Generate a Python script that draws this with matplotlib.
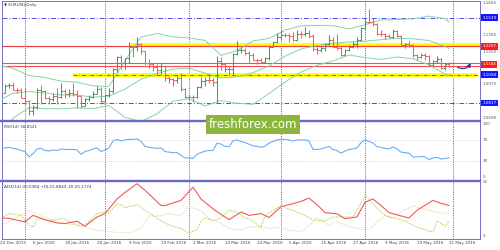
import matplotlib
matplotlib.use("Agg")
import matplotlib.pyplot as plt
import matplotlib.transforms as mtransforms
from matplotlib.patches import FancyArrowPatch
from matplotlib.lines import Line2D
import pandas as pd

# ---------------- data ----------------
title_text = "EURUSD,Daily"
bar_dates = [d for d in pd.bdate_range("2015-12-22", "2016-05-31")
             if not ((d.month == 12 and d.day == 25) or (d.month == 1 and d.day == 1))]

opens = [1.0922,1.0951,1.0905,1.0966,1.0970,1.0930,1.0930,1.0860,1.0830,1.0745,
         1.0780,1.0930,1.0920,1.0855,1.0850,1.0875,1.0865,1.0915,1.0890,1.0900,
         1.0890,1.0875,1.0795,1.0850,1.0870,1.0895,1.0937,1.0830,1.0885,1.0918,
         1.1105,1.1210,1.1155,1.1195,1.1290,1.1290,1.1320,1.1255,1.1155,1.1145,
         1.1125,1.1100,1.1130,1.1025,1.1020,1.1010,1.1025,1.0935,1.0870,1.0870,
         1.0865,1.0955,1.1000,1.1015,1.1010,1.0995,1.1175,1.1150,1.1105,1.1105,
         1.1235,1.1265,1.1270,1.1240,1.1220,1.1180,1.1180,1.1165,1.1200,1.1295,
         1.1335,1.1380,1.1390,1.1390,1.1385,1.1350,1.1405,1.1400,1.1410,1.1385,
         1.1275,1.1270,1.1285,1.1315,1.1355,1.1295,1.1285,1.1225,1.1265,1.1295,
         1.1315,1.1350,1.1455,1.1505,1.1500,1.1490,1.1405,1.1405,1.1385,1.1375,
         1.1425,1.1385,1.1310,1.1315,1.1310,1.1220,1.1205,1.1225,1.1215,1.1140,
         1.1175,1.1190,1.1115,1.1145]
highs = [1.0989,1.0956,1.0975,1.0990,1.0993,1.0945,1.0945,1.0945,1.0838,1.0800,
         1.0940,1.0970,1.0930,1.0875,1.0900,1.0940,1.0985,1.0935,1.0935,1.0990,
         1.0925,1.0880,1.0855,1.0885,1.0920,1.0960,1.0950,1.0895,1.0945,1.1110,
         1.1215,1.1225,1.1200,1.1338,1.1297,1.1376,1.1325,1.1262,1.1187,1.1160,
         1.1147,1.1155,1.1135,1.1045,1.1030,1.1050,1.1075,1.0945,1.0888,1.0885,
         1.0960,1.1035,1.1035,1.1058,1.1030,1.1218,1.1205,1.1155,1.1130,1.1240,
         1.1340,1.1300,1.1285,1.1255,1.1240,1.1190,1.1195,1.1210,1.1300,1.1345,
         1.1410,1.1440,1.1410,1.1410,1.1415,1.1440,1.1430,1.1465,1.1435,1.1400,
         1.1290,1.1300,1.1325,1.1395,1.1375,1.1398,1.1295,1.1275,1.1310,1.1345,
         1.1375,1.1465,1.1535,1.1616,1.1535,1.1495,1.1435,1.1410,1.1405,1.1445,
         1.1435,1.1395,1.1325,1.1345,1.1320,1.1235,1.1240,1.1245,1.1228,1.1185,
         1.1215,1.1195,1.1150,1.1165]
lows = [1.0915,1.0882,1.0900,1.0945,1.0925,1.0905,1.0858,1.0800,1.0711,1.0712,
        1.0765,1.0805,1.0848,1.0805,1.0835,1.0810,1.0860,1.0860,1.0865,1.0875,
        1.0778,1.0775,1.0795,1.0835,1.0855,1.0895,1.0810,1.0820,1.0870,1.0905,
        1.1080,1.1105,1.1105,1.1160,1.1211,1.1260,1.1230,1.1138,1.1115,1.1085,
        1.1065,1.1065,1.1005,1.0990,1.0960,1.0985,1.0915,1.0858,1.0845,1.0825,
        1.0855,1.0940,1.0965,1.0985,1.0965,1.0822,1.1095,1.1080,1.1055,1.1060,
        1.1225,1.1245,1.1225,1.1165,1.1180,1.1145,1.1165,1.1165,1.1180,1.1290,
        1.1325,1.1355,1.1375,1.1330,1.1345,1.1340,1.1370,1.1385,1.1370,1.1260,
        1.1235,1.1250,1.1260,1.1305,1.1290,1.1270,1.1215,1.1225,1.1260,1.1285,
        1.1285,1.1340,1.1440,1.1495,1.1470,1.1390,1.1385,1.1360,1.1365,1.1370,
        1.1375,1.1300,1.1285,1.1290,1.1210,1.1185,1.1195,1.1185,1.1130,1.1135,
        1.1155,1.1105,1.1095,1.1125]
closes = [1.0951,1.0905,1.0962,1.0970,1.0930,1.0930,1.0860,1.0830,1.0745,1.0780,
          1.0930,1.0920,1.0855,1.0850,1.0875,1.0865,1.0915,1.0890,1.0900,1.0890,
          1.0875,1.0795,1.0850,1.0870,1.0895,1.0937,1.0830,1.0885,1.0918,1.1105,
          1.1210,1.1155,1.1195,1.1290,1.1290,1.1320,1.1255,1.1155,1.1145,1.1125,
          1.1100,1.1130,1.1025,1.1020,1.1010,1.1025,1.0935,1.0870,1.0870,1.0865,
          1.0955,1.1000,1.1015,1.1010,1.0995,1.1175,1.1150,1.1105,1.1105,1.1235,
          1.1265,1.1270,1.1240,1.1220,1.1180,1.1180,1.1165,1.1200,1.1295,1.1335,
          1.1380,1.1390,1.1390,1.1385,1.1350,1.1405,1.1400,1.1410,1.1385,1.1275,
          1.1270,1.1285,1.1315,1.1355,1.1295,1.1285,1.1225,1.1265,1.1295,1.1315,
          1.1350,1.1455,1.1505,1.1500,1.1490,1.1405,1.1405,1.1385,1.1375,1.1425,
          1.1385,1.1310,1.1315,1.1310,1.1220,1.1205,1.1225,1.1215,1.1140,1.1175,
          1.1190,1.1115,1.1145,1.1130]

bb_idx = [0,4,8,12,16,20,24,28,32,36,40,44,48,52,56,60,64,68,72,76,80,84,88,92,96,100,104,108,112,113]
bb_mid = [1.0830,1.0899,1.0914,1.0901,1.0885,1.0884,1.0866,1.0876,1.0935,1.1018,1.1066,1.1105,1.1112,1.1070,1.1029,
          1.1038,1.1074,1.1131,1.1214,1.1275,1.1306,1.1323,1.1335,1.1341,1.1354,1.1366,1.1361,1.1347,1.1297,1.1278]
bb_up = [1.1141,1.1111,1.1050,1.1033,1.1002,1.0993,1.0962,1.0958,1.1177,1.1376,1.1407,1.1378,1.1369,1.1348,1.1221,
         1.1261,1.1343,1.1365,1.1434,1.1471,1.1475,1.1472,1.1446,1.1480,1.1521,1.1525,1.1530,1.1554,1.1531,1.1503]
bb_lo = [1.0519,1.0687,1.0778,1.0769,1.0768,1.0775,1.0770,1.0795,1.0694,1.0660,1.0725,1.0832,1.0854,1.0792,1.0837,
         1.0815,1.0805,1.0897,1.0994,1.1079,1.1137,1.1174,1.1224,1.1202,1.1187,1.1207,1.1192,1.1140,1.1063,1.1053]

# RSI(14), one value per bar
rsi = [54,53,55,56,54,53,50,48,38,44,53,54,50,49,51,50,53,52,52,52,
       51,43,48,50,53,55,48,51,55,68,71,68,70,71,71,72,67,58,56,55,
       54,55,48,47,46,46,41,36,36,35,43,46,49,50,50,64,62,58,57,68,
       70,67,65,62,59,58,56,58,64,67,70,71,71,70,68,70,70,70,68,52,
       52,53,55,58,52,50,45,49,52,53,55,65,70,67,64,57,56,54,53,57,
       53,47,46,45,38,38,39,38,33,36,37,34,35,36]
rsi_header = "RSI(14) 38.8521"

adx_idx = [1,3,7,9,12,15,17,20,22,25,27,30,32,35,37,41,42,46,49,51,54,58,61,63,66,68,71,73,76,78,
           80,82,85,87,90,92,94,96,98,101,103,105,109,111,113]
adx_val = [18.6,18.2,15.0,21.0,17.0,14.0,13.5,15.6,11.0,19.5,22.6,36.0,42.0,50.0,44.0,30.0,30.0,34.7,46.8,36.0,
           27.0,17.0,24.0,21.0,22.6,19.0,29.0,30.8,33.8,36.8,30.8,23.5,22.5,18.0,19.5,33.0,36.0,30.0,23.5,20.5,
           18.6,25.6,34.7,32.0,30.0]
pdi_idx = [1,3,6,8,9,10,12,13,16,17,20,22,25,26,28,30,31,32,35,37,39,41,43,46,48,50,51,52,54,56,
           58,60,62,63,66,67,71,72,74,77,79,82,84,87,89,92,93,95,97,99,102,105,109,110,112,113]
pdi_val = [18,22.6,21,12,10,18,17,16,18,17.5,12,12,22.6,23.5,23.5,31.7,30.8,28,30.8,25.5,
           21,16,12,9,4.7,8,16,18.6,16,18.6,25.5,24,18.6,18,10,21,30,28,25.5,21,
           16.7,16,19.5,19.5,19.5,39,36,27.4,21,18.6,16,10,5.5,16,11,15.9]
mdi_idx = [1,3,8,9,12,15,17,20,22,25,28,31,33,36,38,41,43,46,48,51,53,56,58,61,63,66,68,71,73,76,
           78,80,83,85,88,90,93,95,97,99,101,104,108,110,112,113]
mdi_val = [12,15,25.5,23.5,19.5,15,13.5,12,10,7.5,6.1,5,5,9,20.5,20.5,22.6,20.5,29,25.5,
           18.6,14,9,7.5,10.5,10.5,9,10,7.5,6,12,18.6,12,15,10.5,9,7.5,15,20.5,18.6,
           24,29.8,25.5,24,22.6,25.2]
adx_header = "ADX(14) 30.0084 +DI:15.8843 -DI:25.1774"

# horizontal levels drawn on the chart
blue_levels = [1.1539, 1.0817]
yellow_top_level, yellow_top_start = 1.1310, "2016-02-09"
red_top_level = 1.1297
red_pair_levels = [1.1154, 1.1131]
yellow_low_level, yellow_low_start = 1.1058, "2016-01-20"
price_box_labels = [(1.1539, "1.1539", "#1515ff"), (1.1297, "1.1297", "#ff1a1a"),
                    (1.1144, "1.1144", "#ff1a1a"), (1.1058, "1.1058", "#1515ff"),
                    (1.0817, "1.0817", "#1515ff")]
price_ticks = [1.1665, 1.1395, 1.1250, 1.0975, 1.0690]
rsi_ticks = [100, 70, 30, 0]
adx_ticks = [52, 2]
x_label_dates = ["2015-12-22","2016-01-06","2016-01-18","2016-01-28","2016-02-09","2016-02-19",
                 "2016-03-02","2016-03-14","2016-03-24","2016-04-05","2016-04-15","2016-04-27",
                 "2016-05-09","2016-05-19","2016-05-31"]
arrow_from = (114.5, 1.1131)
arrow_to = (118.8, 1.1175)
watermark = "freshforex.com"

# ---------------- figure ----------------
W, H = 500, 250
fig = plt.figure(figsize=(5, 2.5), dpi=100)
fig.patch.set_facecolor("white")
L, R = 2, 480
ax_main = fig.add_axes([L / W, 1 - 121 / H, (R - L) / W, 120 / H])
ax_rsi = fig.add_axes([L / W, 1 - 181 / H, (R - L) / W, 60 / H])
ax_adx = fig.add_axes([L / W, 1 - 239 / H, (R - L) / W, 58 / H])
FRAME = "#7272c4"
XMIN, XMAX = 1.25, 120.75
n = len(closes)
idx = list(range(n))
seps = [i for i in range(1, n) if bar_dates[i].month != bar_dates[i - 1].month] + [n]

for ax in (ax_main, ax_rsi, ax_adx):
    ax.set_xlim(XMIN, XMAX)
    ax.set_xticks([]); ax.set_yticks([])
    for s in ax.spines.values():
        s.set_color(FRAME); s.set_linewidth(0.7)
    for s in seps:
        ax.axvline(s, color="#3a3a9a", ls=(0, (1.2, 1.6)), lw=0.6, zorder=1)

ax_main.set_ylim(1.0664, 1.1682)
ax_rsi.set_ylim(-7.5, 105.7)
ax_adx.set_ylim(-0.7, 52.5)

# levels
for lv in blue_levels:
    ax_main.axhline(lv, color="#4a4aee", lw=0.7, ls=(0, (5, 2, 1, 2)), zorder=2)
ys = bar_dates.index(pd.Timestamp(yellow_top_start))
ax_main.hlines(yellow_top_level, ys, XMAX, color="#ffff00", lw=2.8, zorder=2)
ax_main.axhline(red_top_level, color="#ee4444", lw=0.9, zorder=2)
for lv in red_pair_levels:
    ax_main.axhline(lv, color="#f05050", lw=0.8, zorder=2)
yl = bar_dates.index(pd.Timestamp(yellow_low_start))
ax_main.hlines(yellow_low_level, yl, 120.2, color="#ffff00", lw=2.8, zorder=2)
ax_main.hlines(yellow_low_level, yl, 120.2, color="#555566", lw=0.6, ls=(0, (5, 2, 1, 2)), zorder=2)

# bollinger
for band in (bb_up, bb_mid, bb_lo):
    ax_main.plot(bb_idx, band, color="#86d3a6", lw=0.7, zorder=3)

# OHLC bars
UP, DN = "#3f9f5f", "#f06262"
cols = [UP if c > o else DN for o, c in zip(opens, closes)]
ax_main.vlines(idx, lows, highs, colors=cols, lw=0.75, zorder=4)
ax_main.hlines(opens, [i - 0.45 for i in idx], idx, colors=cols, lw=0.75, zorder=4)
ax_main.hlines(closes, idx, [i + 0.45 for i in idx], colors=cols, lw=0.75, zorder=4)

# arrow
arr = FancyArrowPatch(arrow_from, arrow_to, connectionstyle="arc3,rad=0.55",
                      arrowstyle="-|>", mutation_scale=5, color="#2233aa", lw=0.9, zorder=6)
ax_main.add_patch(arr)

# title
ax_main.text(0.004, 0.965, "\u25bc " + title_text, transform=ax_main.transAxes,
             fontsize=2.9, color="#333377", ha="left", va="center")

# right-hand labels
def right_text(ax, y, txt):
    tr = mtransforms.blended_transform_factory(ax.transAxes, ax.transData)
    ax.text(1.0 + 3 / 478, y, txt, transform=tr, fontsize=3, color="#555566",
            ha="left", va="center", clip_on=False, zorder=5)

for v in price_ticks:
    right_text(ax_main, v, f"{v:.4f}")
trm = mtransforms.blended_transform_factory(ax_main.transAxes, ax_main.transData)
for v, txt, c in price_box_labels:
    ax_main.text(1.0 + 2.2 / 478, v, txt, transform=trm, fontsize=3, color="white",
                 ha="left", va="center", clip_on=False, zorder=10,
                 bbox=dict(boxstyle="square,pad=0.35", fc=c, ec="none"))

# RSI
for g in (70, 30):
    ax_rsi.axhline(g, color="#cccccc", lw=0.5, ls=(0, (2, 2)), zorder=1)
ax_rsi.plot(idx, rsi, color="#6aaef5", lw=0.8, zorder=3)
for v in rsi_ticks:
    right_text(ax_rsi, v, f"{v}")
ax_rsi.text(0.004, 0.9, rsi_header, transform=ax_rsi.transAxes, fontsize=3,
            color="#333377", ha="left", va="center")

# ADX
ax_adx.plot(mdi_idx, mdi_val, color="#f3cfa8", lw=0.7, ls=(0, (1.5, 1.2)), zorder=2)
ax_adx.plot(pdi_idx, pdi_val, color="#a6d24a", lw=0.7, ls=(0, (1.5, 1.2)), zorder=2)
ax_adx.plot(adx_idx, adx_val, color="#f25a5a", lw=0.8, zorder=3)
for v in adx_ticks:
    right_text(ax_adx, v, f"{v}")
ax_adx.text(0.004, 0.89, adx_header, transform=ax_adx.transAxes, fontsize=3,
            color="#333377", ha="left", va="center")

# date labels
trx = mtransforms.blended_transform_factory(ax_adx.transData, ax_adx.transAxes)
for ds in x_label_dates:
    d = pd.Timestamp(ds)
    p = max(bar_dates.index(d), XMIN - 0.5)
    ax_adx.text(p, -0.075, f"{d.day} {d.strftime('%b')} {d.year}", transform=trx,
                fontsize=3, color="#444455", ha="left", va="center", clip_on=False)

# panel separators
for py in (121, 181):
    fig.add_artist(Line2D([0, R / W], [1 - py / H] * 2, lw=1.7, color="#6a6ac6"))

# watermark
fig.text(253 / W, 1 - 124.5 / H, watermark, fontsize=8.5, color="white", ha="center", va="center",
         zorder=20, bbox=dict(boxstyle="square,pad=0.22", fc="#8db43c", ec="none"))

fig.savefig("out.png", dpi=100, facecolor="white")
